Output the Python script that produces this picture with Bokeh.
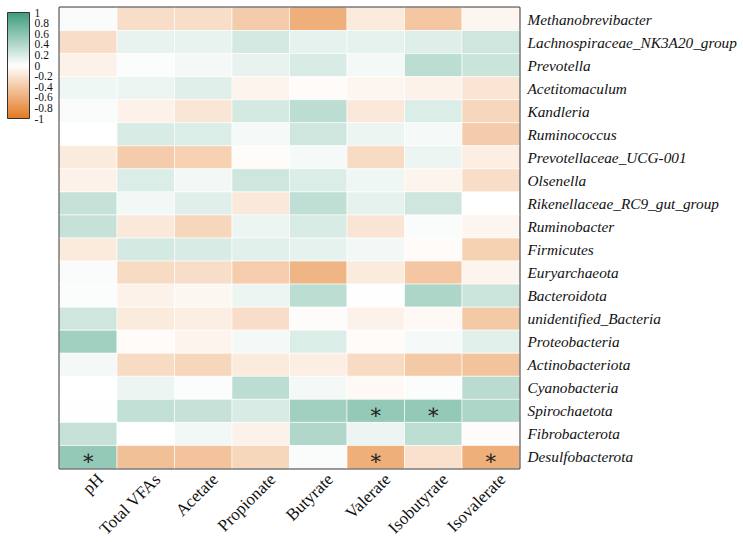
import math
import numpy as np
from bokeh.plotting import figure
from bokeh.layouts import column
from bokeh.models import (ColumnDataSource, LinearColorMapper, ColorBar,
                          FixedTicker, CustomJSTickFormatter, FactorRange,
                          AllLabels, Range1d)
from bokeh.embed import file_html
from bokeh.resources import INLINE
from bokeh.core.properties import value

# --- data -------------------------------------------------------------
variables = ["pH", "Total VFAs", "Acetate", "Propionate", "Butyrate",
             "Valerate", "Isobutyrate", "Isovalerate"]

taxa = ["Methanobrevibacter", "Lachnospiraceae_NK3A20_group", "Prevotella",
        "Acetitomaculum", "Kandleria", "Ruminococcus", "Prevotellaceae_UCG-001",
        "Olsenella", "Rikenellaceae_RC9_gut_group", "Ruminobacter", "Firmicutes",
        "Euryarchaeota", "Bacteroidota", "unidentified_Bacteria", "Proteobacteria",
        "Actinobacteriota", "Cyanobacteria", "Spirochaetota", "Fibrobacterota",
        "Desulfobacterota"]

# Spearman correlation, one row per taxon, columns in the order of `variables`
corr = [
    [0.03, -0.25, -0.25, -0.38, -0.60, -0.15, -0.42, -0.07],
    [-0.25, 0.12, 0.12, 0.22, 0.14, 0.14, 0.17, 0.25],
    [-0.10, 0.02, 0.06, 0.12, 0.20, 0.06, 0.35, 0.28],
    [0.08, 0.10, 0.16, -0.08, -0.03, -0.07, -0.10, -0.20],
    [0.03, -0.10, -0.18, 0.22, 0.35, -0.17, 0.18, -0.30],
    [0.00, 0.20, 0.18, 0.05, 0.25, 0.10, 0.05, -0.38],
    [-0.15, -0.38, -0.35, -0.03, 0.05, -0.27, 0.10, -0.13],
    [-0.10, 0.18, 0.07, 0.25, 0.18, 0.08, -0.08, -0.25],
    [0.30, 0.07, 0.16, -0.17, 0.33, 0.14, 0.25, 0.00],
    [0.30, -0.17, -0.30, 0.10, 0.20, -0.20, 0.03, -0.07],
    [-0.15, 0.22, 0.20, 0.15, 0.14, 0.07, -0.03, -0.35],
    [0.03, -0.27, -0.25, -0.37, -0.55, -0.15, -0.42, -0.08],
    [0.02, -0.10, -0.06, 0.10, 0.35, 0.01, 0.42, 0.27],
    [0.25, -0.15, -0.13, -0.25, -0.02, -0.10, -0.04, -0.40],
    [0.48, -0.03, -0.08, 0.06, 0.18, -0.03, 0.05, 0.15],
    [0.06, -0.27, -0.30, -0.15, -0.13, -0.27, -0.40, -0.45],
    [0.00, 0.10, 0.02, 0.35, 0.06, -0.04, 0.02, 0.36],
    [0.01, 0.32, 0.30, 0.20, 0.48, 0.55, 0.55, 0.42],
    [0.30, 0.00, 0.07, -0.10, 0.40, 0.10, 0.34, -0.02],
    [0.55, -0.47, -0.45, -0.30, 0.03, -0.60, -0.22, -0.60],
]

# significant pairs (p < 0.05): (taxon, variable)
significant = [
    ("Spirochaetota", "Valerate"),
    ("Spirochaetota", "Isobutyrate"),
    ("Desulfobacterota", "pH"),
    ("Desulfobacterota", "Valerate"),
    ("Desulfobacterota", "Isovalerate"),
]

ticks = [1, 0.8, 0.6, 0.4, 0.2, 0, -0.2, -0.4, -0.6, -0.8, -1]

# --- diverging orange / white / green palette ----------------------------
low = np.array([228, 122, 34])
mid = np.array([255, 255, 255])
high = np.array([62, 157, 125])
palette = []
for t in np.linspace(-1, 1, 256):
    c = mid + (low - mid) * (-t) if t < 0 else mid + (high - mid) * t
    palette.append("#%02x%02x%02x" % tuple(int(round(v)) for v in c))
mapper = LinearColorMapper(palette=palette, low=-1, high=1)

xs, ys, vals = [], [], []
for i, t in enumerate(taxa):
    for j, v in enumerate(variables):
        xs.append(v)
        ys.append(t)
        vals.append(corr[i][j])
src = ColumnDataSource(dict(x=xs, y=ys, v=vals))
sig_src = ColumnDataSource(dict(y=[s[0] for s in significant],
                                x=[s[1] for s in significant],
                                t=["\u2217"] * len(significant)))
var_src = ColumnDataSource(dict(x=variables, y=[1] * len(variables), name=variables))

LEFT, RIGHT = 59, 224
x_range = FactorRange(*variables, range_padding=0)

# --- heatmap -------------------------------------------------------------
p = figure(width=743, height=470, output_backend="svg", toolbar_location=None,
           x_range=x_range, y_range=FactorRange(*taxa[::-1], range_padding=0),
           x_axis_location=None, y_axis_location="right",
           min_border_left=LEFT, min_border_right=RIGHT, min_border_top=7,
           min_border_bottom=2)
p.rect(x="x", y="y", width=1, height=1, source=src,
       fill_color={"field": "v", "transform": mapper},
       line_color="white", line_width=0.6)
p.text(x="x", y="y", text="t", source=sig_src, text_align="center",
       text_baseline="middle", text_font=value("DejaVu Serif"),
       text_font_size="21px", y_offset=1, text_color="#222222")

p.outline_line_color = "#3a3a3a"
p.outline_line_width = 2
p.grid.visible = False
p.yaxis.axis_line_color = None
p.yaxis.major_tick_line_color = None
p.yaxis.minor_tick_line_color = None
p.yaxis.major_label_text_font = "Liberation Serif"
p.yaxis.major_label_text_font_size = "15.3px"
p.yaxis.major_label_text_font_style = "italic"
p.yaxis.major_label_text_color = "#111111"
p.yaxis.major_label_standoff = 2

cb = ColorBar(color_mapper=mapper, ticker=FixedTicker(ticks=ticks),
              formatter=CustomJSTickFormatter(code="return String(Math.round(tick*10)/10)"),
              major_label_policy=AllLabels(),
              width=22, height=106, location=(-52, 350), padding=0, margin=0,
              bar_line_color="#333333", bar_line_width=1,
              border_line_color=None, background_fill_alpha=0,
              major_tick_line_color=None, minor_tick_line_color=None,
              label_standoff=5, major_label_text_font="Liberation Serif",
              major_label_text_font_size="11.5px", major_label_text_color="#111111")
p.add_layout(cb)

# --- rotated variable names under the columns -----------------------------
q = figure(width=743, height=72, output_backend="svg", toolbar_location=None,
           x_range=x_range, y_range=Range1d(0, 1),
           x_axis_location=None, y_axis_location=None,
           min_border_left=LEFT, min_border_right=RIGHT, min_border_top=0,
           min_border_bottom=0)
q.outline_line_color = None
q.grid.visible = False
q.text(x="x", y="y", text="name", source=var_src, angle=math.pi / 4,
       text_align="right", text_baseline="middle", x_offset=12, y_offset=6,
       text_font=value("Liberation Serif"), text_font_size="17px",
       text_color="#111111")

layout = column(p, q, spacing=0)
open("out.html", "w").write(file_html(layout, INLINE))
